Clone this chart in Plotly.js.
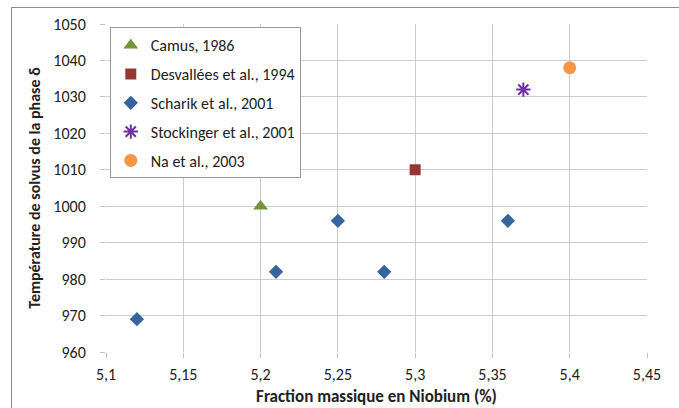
<!DOCTYPE html>
<html><head><meta charset="utf-8">
<script src="https://cdn.plot.ly/plotly-3.0.1.min.js"></script>
<style>
body{margin:0;padding:0;background:#fff;}
#wrap{position:relative;width:679px;height:408px;overflow:hidden;}
#chart{width:679px;height:408px;}
#frame{position:absolute;left:11px;top:7px;width:680px;height:420px;border-top:1px solid #8c8c8c;border-left:1px solid #8c8c8c;pointer-events:none;}
</style></head>
<body><div id="wrap"><div id="chart"></div><div id="frame"></div></div>
<script>
const seriesNames = ["Camus, 1986","Desvallées et al., 1994","Scharik et al., 2001","Stockinger et al., 2001","Na et al., 2003"];
const camusX = [5.2], camusY = [1000];
const desvX = [5.3], desvY = [1010];
const scharikX = [5.12, 5.21, 5.25, 5.28, 5.36], scharikY = [969, 982, 996, 982, 996];
const stockX = [5.37], stockY = [1032];
const naX = [5.4], naY = [1038];
const xTicks = [5.1,5.15,5.2,5.25,5.3,5.35,5.4,5.45];
const xTickText = ["5,1","5,15","5,2","5,25","5,3","5,35","5,4","5,45"];
const yTicks = [960,970,980,990,1000,1010,1020,1030,1040,1050];

const xs=[camusX,desvX,scharikX,stockX,naX], ys=[camusY,desvY,scharikY,stockY,naY];
const markers=[
 {symbol:'triangle-up',size:13,color:'#77933C'},
 {symbol:'square',size:11,color:'#953735'},
 {symbol:'diamond',size:11,color:'#35649F'},
 {symbol:'asterisk-open',size:12,color:'#7030A0',line:{color:'#7030A0',width:2}},
 {symbol:'circle',size:13,color:'#F79646'}
];
const data = seriesNames.map((n,i)=>({
  type:'scatter',mode:'markers',name:n,x:xs[i],y:ys[i],
  legendgroup:'g'+i, marker:markers[i]
}));
const font="Carlito, Calibri, Lato, sans-serif";
const layout={
  width:679,height:408,
  margin:{l:106,r:32,t:24,b:56},
  paper_bgcolor:'#fff',plot_bgcolor:'#fff',
  font:{family:font,color:'#222'},
  separators:', ',
  showlegend:true,
  legend:{x:0.007,y:0.99,xanchor:'left',yanchor:'top',bgcolor:'#fff',bordercolor:'#999',borderwidth:1,
    itemwidth:30,
    font:{size:16,family:font,color:'#222'},traceorder:'grouped',tracegroupgap:5},
  xaxis:{range:[5.1,5.45],tickvals:xTicks,ticktext:xTickText,showgrid:true,gridcolor:'#cccccc',
    zeroline:false,showline:false,ticks:'outside',ticklen:5,tickcolor:'#c0c0c0',ticklabelstandoff:3,
    tickfont:{size:16,family:font,color:'#222'},
    title:{text:'<b>Fraction massique en Niobium (%)</b>',font:{size:17,family:font,color:'#222'},standoff:6}},
  yaxis:{range:[960,1050],tickvals:yTicks,showgrid:true,gridcolor:'#cccccc',
    zeroline:false,showline:false,ticks:'outside',ticklen:5,tickcolor:'#c0c0c0',ticklabelstandoff:11,
    tickfont:{size:16,family:font,color:'#222'},
    title:{text:'<b>Température de solvus de la phase δ</b>',font:{size:16,family:font,color:'#222'},standoff:8}}
};
Plotly.newPlot('chart',data,layout,{displayModeBar:false,staticPlot:true});
</script></body></html>
